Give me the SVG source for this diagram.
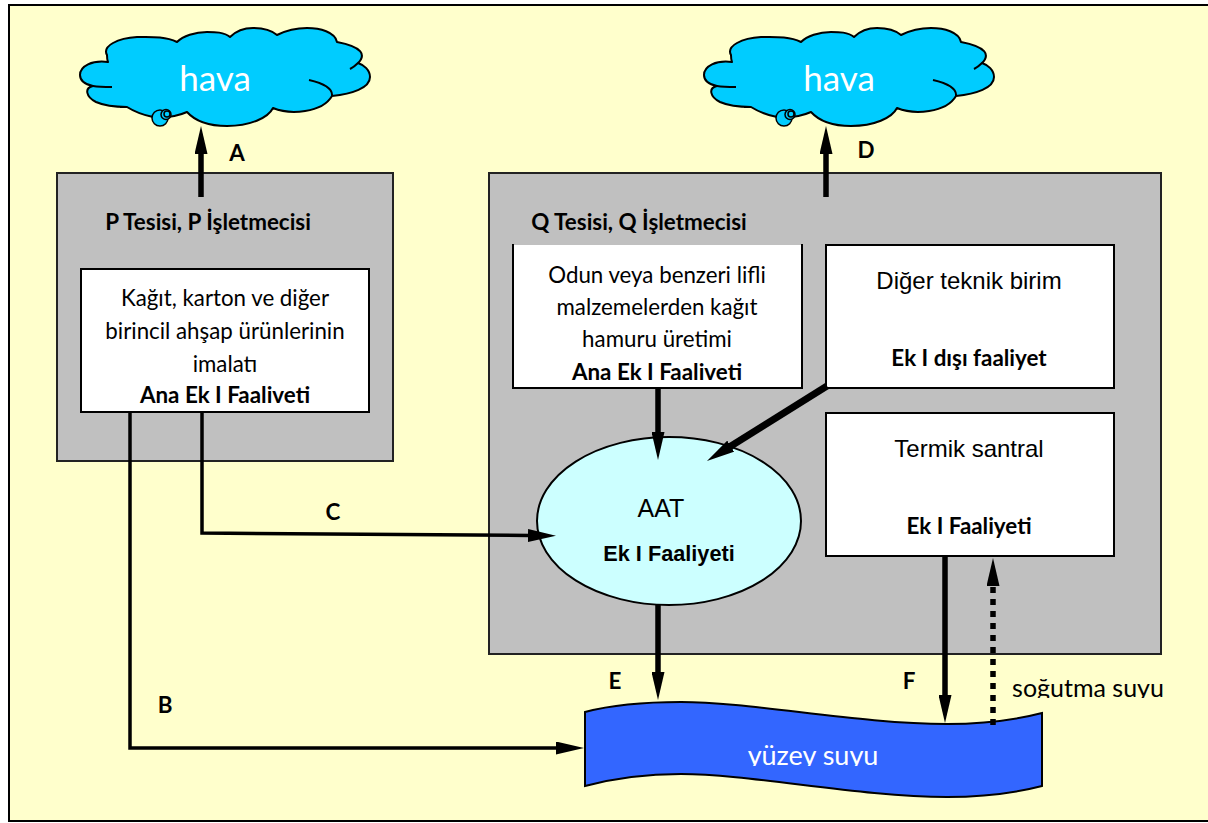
<svg xmlns="http://www.w3.org/2000/svg" width="1208" height="823" viewBox="0 0 1208 823">
<style>
text{font-family:"Lato","Carlito","Open Sans",sans-serif;fill:#000;text-anchor:middle}
.b{font-weight:700;font-size:22.400px}
.r{font-size:22.300px}
.a{font-family:"Liberation Sans",Arial,sans-serif;font-size:24px}
.ab{font-family:"Liberation Sans",Arial,sans-serif;font-size:21.700px;font-weight:700}
.box{fill:#fff;stroke:#000;stroke-width:2}
.plant{fill:#c0c0c0;stroke:#222;stroke-width:2}
.w{stroke:#000;stroke-width:5.500;fill:none}
.t{stroke:#000;stroke-width:3.500;fill:none}
.cl{fill:#00ccff;stroke:#000;stroke-width:2;stroke-linejoin:round}
.in{fill:none;stroke:#000;stroke-width:2}
.h{fill:#fff;font-size:35px}
</style>
<defs>
<marker id="ah" markerUnits="userSpaceOnUse" markerWidth="28" markerHeight="13" refX="2" refY="6.500" orient="auto" viewBox="0 0 28 13"><path d="M0 0L28 6.500L0 13Z" fill="#000"/></marker>
<g id="cloud">
<path class="cl" d="M108 62C92 60 80 66 80 75C80 82 88 85 93 86C84 88 86 97 96 102C105 106 115 107 127 107C135 112 143 115 153 117C165 118 178 116 187 112C196 122 212 126 227 126C250 126 268 118 273 108C290 115 322 113 332 96C352 94 370 88 370 77C370 70 364 65 358 63C366 55 363 47 337 42C335 32 320 28 307 28C295 28 285 31 277 35C270 29 262 28 253 28C243 28 235 32 230 37C224 32 215 32 207 32C195 32 183 36 177 42C165 36 150 37 137 37C118 38 102 46 107 55C107 58 107 60 108 62Z"/>
<path class="in" d="M93 86C99 87 105 87 112 87M332 96C333 88 322 83 309 80M358 63C355 66 352 68 350 69M120 107C124 107 126 107 127 107"/>
<circle cx="160" cy="118" r="8" fill="#00ccff" stroke="#000" stroke-width="1.500"/>
<circle cx="166" cy="114.500" r="5" fill="#00ccff" stroke="#000" stroke-width="1.500"/>
<circle cx="167" cy="114" r="3" fill="#00ccff" stroke="#000" stroke-width="1.500"/>
</g>
<clipPath id="c1"><rect x="700" y="730" width="220" height="36"/></clipPath>
<clipPath id="c2"><rect x="1000" y="670" width="180" height="28"/></clipPath>
</defs>
<rect id="frame" x="9" y="5" width="1205" height="816" fill="#ffffcc" stroke="#000" stroke-width="2"/>
<g id="cloud-p"><use href="#cloud"/><text class="h" x="215" y="91">hava</text></g>
<g id="cloud-q"><use href="#cloud" x="624"/><text class="h" x="839" y="91">hava</text></g>
<g id="plant-p"><rect class="plant" x="57" y="173" width="336" height="288"/><text class="b" x="208" y="230">P Tesisi, P İşletmecisi</text></g>
<g id="plant-q"><rect class="plant" x="489" y="173" width="672" height="481"/><text class="b" x="639" y="230">Q Tesisi, Q İşletmecisi</text></g>
<g id="unit-p"><rect class="box" x="81" y="269" width="288" height="143"/>
<text class="r" x="225" y="306">Kağıt, karton ve diğer</text><text class="r" x="225" y="339">birincil ahşap ürünlerinin</text><text class="r" x="225" y="372">imalatı</text><text class="b" x="225" y="403">Ana Ek I Faaliveti</text></g>
<g id="unit-pulp"><path d="M513 245H802V388H513Z" fill="#fff"/><path class="in" d="M513 244V388H802V244" stroke-width="2.500"/>
<text class="r" x="657" y="283">Odun veya benzeri lifli</text><text class="r" x="657" y="315">malzemelerden kağıt</text><text class="r" x="657" y="347">hamuru üretimi</text><text class="b" x="657" y="380">Ana Ek I Faaliveti</text></g>
<g id="unit-other"><rect class="box" x="826" y="245" width="288" height="143"/><text class="a" x="969" y="289">Diğer teknik birim</text><text class="b" x="969" y="366">Ek I dışı faaliyet</text></g>
<g id="unit-thermal"><rect class="box" x="826" y="413" width="288" height="143"/><text class="a" x="969" y="457">Termik santral</text><text class="b" x="969" y="534">Ek I Faaliyeti</text></g>
<g id="aat"><ellipse cx="669" cy="521" rx="132" ry="84" fill="#ccffff" stroke="#000" stroke-width="2"/><text class="a" x="661" y="517" style="font-size:25px">AAT</text><text class="ab" x="669" y="561">Ek I Faaliyeti</text></g>
<g id="water"><path d="M585 712C615 704 650 702 681 702C750 702 860 724 947 724C985 724 1015 720 1042 713V786C1015 793 985 797 947 797C860 797 750 774 681 774C650 774 615 778 585 786Z" fill="#3366ff" stroke="#000" stroke-width="2"/><text x="813" y="765" clip-path="url(#c1)" style="fill:#fff;font-size:27px">yüzey suyu</text></g>
<g id="connectors">
<path class="w" d="M201 197V152" marker-end="url(#ah)"/>
<path class="w" d="M826 197V152" marker-end="url(#ah)"/>
<path class="w" d="M658 388V434" marker-end="url(#ah)"/>
<path d="M827 386L729 447.200" stroke="#000" stroke-width="7" fill="none" marker-end="url(#ah)"/>
<path class="w" d="M658 605V674" marker-end="url(#ah)"/>
<path class="w" d="M945 556V697" marker-end="url(#ah)"/>
<path d="M993 725V584" stroke="#000" stroke-width="5.500" stroke-dasharray="6 6" fill="none" marker-end="url(#ah)"/>
<path class="t" d="M202 412V533L530 535.500" marker-end="url(#ah)"/>
<path class="t" d="M130 412V748H558" marker-end="url(#ah)"/>
</g>
<g id="labels">
<text class="b" x="237" y="161">A</text><text class="b" x="866" y="158">D</text><text class="b" x="333" y="520">C</text><text class="b" x="165" y="713">B</text><text class="b" x="615" y="689">E</text><text class="b" x="909" y="689">F</text>
<text x="1088" y="697" clip-path="url(#c2)" style="font-size:25px">soğutma suyu</text>
</g>
</svg>
